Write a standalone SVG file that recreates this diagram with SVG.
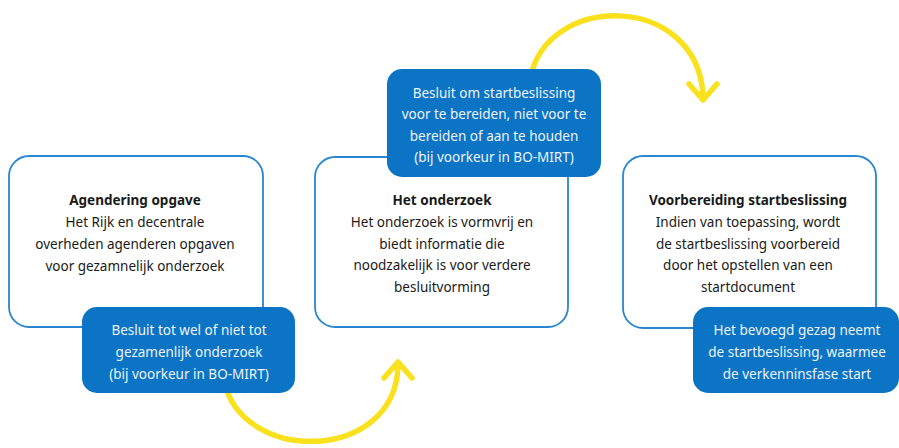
<svg xmlns="http://www.w3.org/2000/svg" width="899" height="448" viewBox="0 0 899 448">
<style>
.box{fill:#ffffff;stroke:#2a86d0;stroke-width:1.8}
.dec{fill:#0b74c4}
.t{font-family:"Noto Sans","Open Sans",sans-serif;font-size:13.5px;fill:#1a1a1a;text-anchor:middle}
.b{font-weight:bold}
.w{font-family:"Noto Sans","Open Sans",sans-serif;font-size:13.5px;fill:#eef3f8;text-anchor:middle}
.arc{fill:none;stroke:#f9e11e;stroke-width:5.5;stroke-linecap:round;stroke-linejoin:round}
</style>
<rect width="899" height="448" fill="#ffffff"/>
<g id="connectors">
<path class="arc" d="M 224 380 C 240 464, 395 464, 398 366"/>
<polyline class="arc" points="384,378 398,362 412,378"/>
<path class="arc" d="M 530 80 C 545 -8, 697 -8, 703 95"/>
<polyline class="arc" points="689,84 703,100 717,84"/>
</g>
<g id="node-agendering">
<rect class="box" x="9" y="156" width="254" height="171" rx="20"/>
<text class="t b" x="135" y="205">Agendering opgave</text>
<text class="t" x="135" y="227">Het Rijk en decentrale</text>
<text class="t" x="135" y="249">overheden agenderen opgaven</text>
<text class="t" x="135" y="271">voor gezamnelijk onderzoek</text>
</g>
<g id="node-besluit1">
<rect class="dec" x="82" y="307" width="213" height="86" rx="15"/>
<text class="w" x="189" y="335">Besluit tot wel of niet tot</text>
<text class="w" x="189" y="357">gezamenlijk onderzoek</text>
<text class="w" x="189" y="379">(bij voorkeur in BO-MIRT)</text>
</g>
<g id="node-onderzoek">
<rect class="box" x="315" y="157" width="253" height="170" rx="20"/>
<text class="t b" x="442" y="205">Het onderzoek</text>
<text class="t" x="442" y="227">Het onderzoek is vormvrij en</text>
<text class="t" x="442" y="249">biedt informatie die</text>
<text class="t" x="442" y="270">noodzakelijk is voor verdere</text>
<text class="t" x="442" y="292">besluitvorming</text>
</g>
<g id="node-besluit2">
<rect class="dec" x="387" y="69" width="214" height="108" rx="15"/>
<text class="w" x="494" y="98">Besluit om startbeslissing</text>
<text class="w" x="494" y="119">voor te bereiden, niet voor te</text>
<text class="w" x="494" y="141">bereiden of aan te houden</text>
<text class="w" x="494" y="162">(bij voorkeur in BO-MIRT)</text>
</g>
<g id="node-voorbereiding">
<rect class="box" x="623" y="156" width="253" height="172" rx="20"/>
<text class="t b" x="748" y="205">Voorbereiding startbeslissing</text>
<text class="t" x="748" y="227">Indien van toepassing, wordt</text>
<text class="t" x="748" y="249">de startbeslissing voorbereid</text>
<text class="t" x="748" y="270">door het opstellen van een</text>
<text class="t" x="748" y="292">startdocument</text>
</g>
<g id="node-startbeslissing">
<rect class="dec" x="693" y="307" width="206" height="86" rx="15"/>
<text class="w" x="797" y="335">Het bevoegd gezag neemt</text>
<text class="w" x="797" y="357">de startbeslissing, waarmee</text>
<text class="w" x="797" y="379">de verkenninsfase start</text>
</g>
</svg>
